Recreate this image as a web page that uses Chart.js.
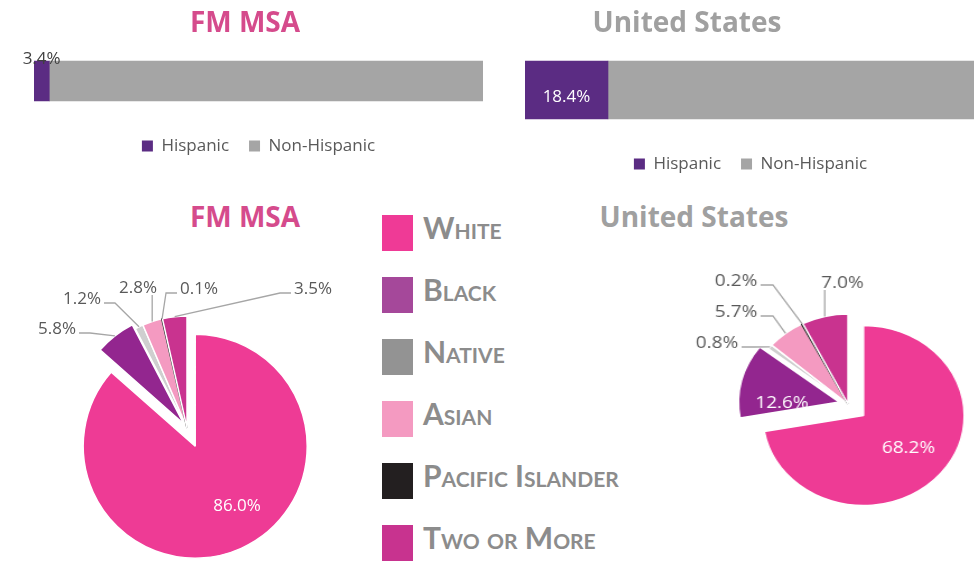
<!DOCTYPE html>
<html>
<head>
<meta charset="utf-8">
<script src="https://cdn.jsdelivr.net/npm/chart.js@4.4.1/dist/chart.umd.min.js"></script>
<style>
  body { margin: 0; width: 974px; height: 561px; overflow: hidden; background: #fff; position: relative; }
  canvas { position: absolute; }
  .title { position: absolute; width: 300px; text-align: center; font: bold 28px/28px "Open Sans", sans-serif; }
  .swatch { position: absolute; left: 382px; width: 31px; height: 36px; }
  .race { position: absolute; left: 423px; font: bold 30px/36px Lato, sans-serif; font-variant: small-caps; color: #8c8c8c; white-space: nowrap; }
</style>
</head>
<body>
<canvas id="fmBar" width="500" height="160" style="left:0;top:15px"></canvas>
<canvas id="usBar" width="480" height="180" style="left:500px;top:15px"></canvas>
<canvas id="fmPie" width="374" height="340" style="left:0;top:258px"></canvas>
<canvas id="usPie" width="300" height="330" style="left:698px;top:239px;transform:scaleX(1.12);transform-origin:150px 165px"></canvas>
<div id="titles"></div>
<div id="raceLegend"></div>
<script>
const ethnicityLabels = ['Hispanic', 'Non-Hispanic']
const fmEthnicity = [3.4, 96.6]
const usEthnicity = [18.4, 81.6]

const raceLabels = ['White', 'Black', 'Native', 'Asian', 'Pacific Islander', 'Two or More']
const fmRace = [86.0, 5.8, 1.2, 2.8, 0.1, 3.5]
const usRace = [68.2, 12.6, 0.8, 5.7, 0.2, 7.0]

const regionNames = ['FM MSA', 'United States']

const ethnicityColors = ['#5b2c83', '#a5a5a5']
const raceColors = ['#ee3b95', '#93268f', '#cfcfcf', '#f49ac1', '#231f20', '#c9338f']
const raceSwatches = ['#ef3a96', '#a5489a', '#939393', '#f49ac1', '#231f20', '#c8338f']
const titleColors = ['#d54b8c', '#a0a0a0']

const pct = v => v.toFixed(1) + '%'

// value label for the Hispanic segment only
const barLabels = {
    id: 'barLabels',
    afterDatasetsDraw(chart, args, opts) {
        const ctx = chart.ctx
        const bar = chart.getDatasetMeta(0).data[0]
        const text = pct(chart.data.datasets[0].data[0])
        const mid = (bar.x + bar.base) / 2
        ctx.save()
        ctx.font = '17px "Open Sans"'
        ctx.textAlign = 'center'
        if (opts.inside) {
            ctx.fillStyle = '#ffffff'
            ctx.fillText(text, mid, bar.y + 7)
        } else {
            ctx.fillStyle = '#404040'
            ctx.fillText(text, mid, bar.y - bar.height / 2 - 2)
        }
        ctx.restore()
    }
}

function ethnicityBar(id, values, thickness, padding, inside) {
    return new Chart(document.getElementById(id), {
        type: 'bar',
        data: {
            labels: [''],
            datasets: ethnicityLabels.map((name, i) => ({
                label: name,
                data: [values[i]],
                backgroundColor: ethnicityColors[i],
                borderColor: ethnicityColors[i],
                borderWidth: 0,
                barThickness: thickness
            }))
        },
        options: {
            indexAxis: 'y',
            responsive: false,
            animation: false,
            events: [],
            layout: { padding: padding },
            scales: {
                x: { stacked: true, display: false, min: 0, max: 100 },
                y: { stacked: true, display: false }
            },
            plugins: {
                legend: {
                    position: 'bottom',
                    labels: {
                        boxWidth: 11,
                        boxHeight: 11,
                        padding: 20,
                        color: '#595959',
                        font: { family: 'Open Sans', size: 17 }
                    }
                },
                tooltip: { enabled: false },
                barLabels: { inside: inside }
            }
        },
        plugins: [barLabels]
    })
}

// pulls chosen slices out and writes the percentages with leader lines
function pieLabels(explode, spots) {
    return {
        id: 'pieLabels',
        afterDatasetsUpdate(chart) {
            chart.getDatasetMeta(0).data.forEach((arc, i) => {
                const d = explode[i] || 0
                const mid = (arc.startAngle + arc.endAngle) / 2
                arc.x += Math.cos(mid) * d
                arc.y += Math.sin(mid) * d
            })
        },
        afterDatasetsDraw(chart) {
            const { ctx, chartArea } = chart
            const cx = (chartArea.left + chartArea.right) / 2
            const cy = (chartArea.top + chartArea.bottom) / 2
            const values = chart.data.datasets[0].data
            ctx.save()
            ctx.font = '17px "Open Sans"'
            ctx.textAlign = 'center'
            ctx.lineWidth = 1.3
            ctx.strokeStyle = '#a6a6a6'
            chart.getDatasetMeta(0).data.forEach((arc, i) => {
                const [dx, dy, side] = spots[i]
                const lx = cx + dx
                const ly = cy + dy
                const text = pct(values[i])
                const half = ctx.measureText(text).width / 2
                const mid = (arc.startAngle + arc.endAngle) / 2
                const ax = arc.x + Math.cos(mid) * arc.outerRadius
                const ay = arc.y + Math.sin(mid) * arc.outerRadius
                if (side !== 'in') {
                    ctx.beginPath()
                    ctx.moveTo(ax, ay)
                    if (side === 'below') {
                        ctx.lineTo(ax, ly + 8)
                    } else {
                        const dir = side === 'left' ? 1 : -1
                        ctx.lineTo(lx + dir * (half + 14), ly + 5)
                        ctx.lineTo(lx + dir * (half + 3), ly + 5)
                    }
                    ctx.stroke()
                }
                ctx.fillStyle = side === 'in' ? '#ffffff' : '#595959'
                ctx.fillText(text, lx, ly + 6)
            })
            ctx.restore()
        }
    }
}

function racePie(id, values, radius, explode, spots) {
    return new Chart(document.getElementById(id), {
        type: 'pie',
        data: {
            labels: raceLabels,
            datasets: [{
                data: values,
                radius: radius,
                backgroundColor: raceColors,
                borderColor: raceColors.map((c, i) => i === 4 ? c : '#ffffff'),
                borderWidth: 1.5
            }]
        },
        options: {
            responsive: false,
            animation: false,
            events: [],
            plugins: {
                legend: { display: false },
                tooltip: { enabled: false }
            }
        },
        plugins: [pieLabels(explode, spots)]
    })
}

ethnicityBar('fmBar', fmEthnicity, 40, { left: 34, right: 17, top: 29.5, bottom: 10.5 }, false)
ethnicityBar('usBar', usEthnicity, 58, { left: 25, right: 4, top: 29.5, bottom: 12.5 }, true)

racePie('fmPie', fmRace, 112, [20, 5, 0, 0, 0, 0], [
    [50, 77, 'in'],
    [-130, -100, 'left'],
    [-105, -130, 'left'],
    [-49, -141, 'below'],
    [12, -140, 'right'],
    [126, -140, 'right']
])
racePie('usPie', usRace, 90, [18, 8, 0, 0, 0, 0], [
    [54, 43, 'in'],
    [-59, -2, 'in'],
    [-117, -62, 'left'],
    [-100, -93, 'left'],
    [-100, -124, 'left'],
    [-5, -122, 'below']
])

// titles and the shared race legend
const titleSpots = [[245, 7], [687, 7], [245, 202], [694, 202]]
const titles = document.getElementById('titles')
titleSpots.forEach(([x, y], i) => {
    const div = document.createElement('div')
    div.className = 'title'
    div.textContent = regionNames[i % 2]
    div.style.left = (x - 150) + 'px'
    div.style.top = y + 'px'
    div.style.color = titleColors[i % 2]
    titles.appendChild(div)
})

const legend = document.getElementById('raceLegend')
raceLabels.forEach((name, i) => {
    const top = 215 + 62 * i
    const sw = document.createElement('div')
    sw.className = 'swatch'
    sw.style.top = top + 'px'
    sw.style.background = raceSwatches[i]
    const label = document.createElement('div')
    label.className = 'race'
    label.style.top = (top - 6) + 'px'
    label.textContent = name
    legend.appendChild(sw)
    legend.appendChild(label)
})
</script>
</body>
</html>
